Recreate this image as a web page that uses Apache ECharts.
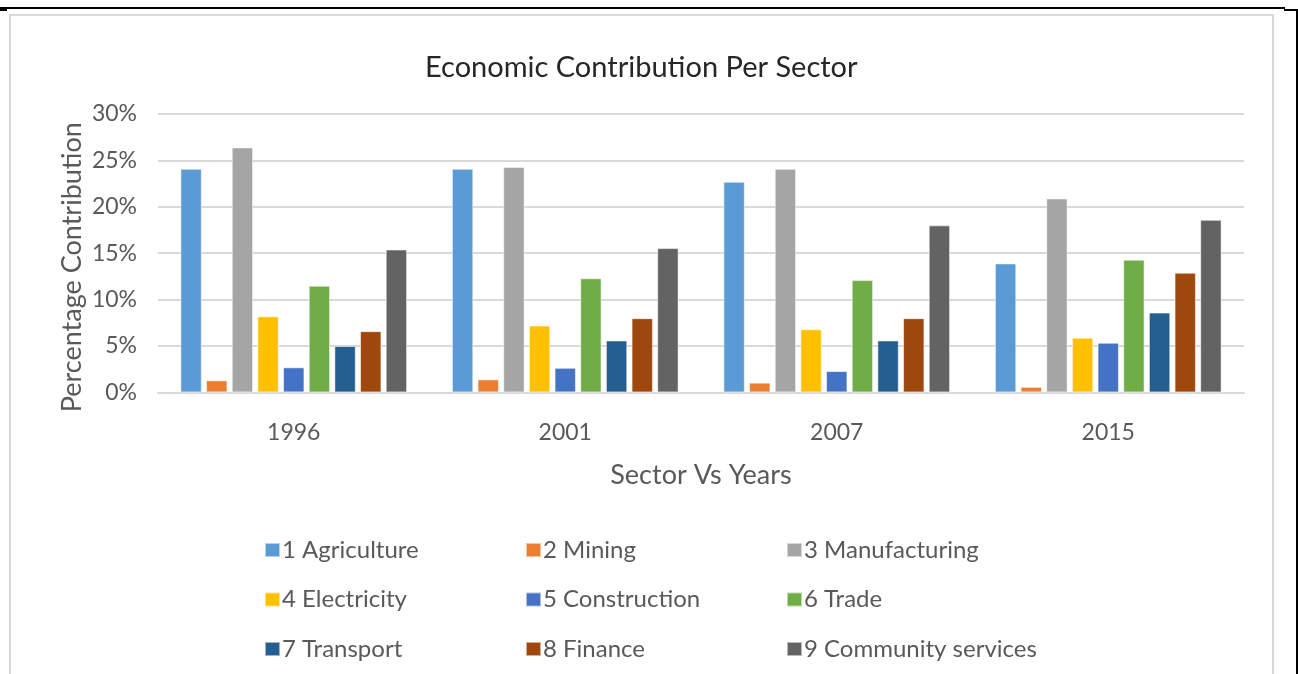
<!DOCTYPE html>
<html>
<head>
<meta charset="utf-8">
<script src="https://cdn.jsdelivr.net/npm/echarts@6/dist/echarts.min.js"></script>
<style>
  html, body { margin: 0; padding: 0; background: #fff; }
  #chart { width: 1298px; height: 674px; }
</style>
</head>
<body>
<div id="chart"></div>
<script>
// Census years on the category axis
const years = ['1996', '2001', '2007', '2015'];

// Share of the economy per sector (percent), one value per year
const agriculture   = [24.1, 24.1, 22.7, 13.9];
const mining        = [1.3, 1.4, 1.05, 0.6];
const manufacturing = [26.4, 24.3, 24.1, 20.9];
const electricity   = [8.2, 7.2, 6.8, 5.9];
const construction  = [2.7, 2.65, 2.3, 5.35];
const trade         = [11.5, 12.3, 12.1, 14.3];
const transport     = [5.0, 5.6, 5.6, 8.6];
const finance       = [6.6, 8.0, 8.0, 12.9];
const community     = [15.4, 15.55, 18.0, 18.6];

const sectorNames = [
  '1 Agriculture', '2 Mining', '3 Manufacturing',
  '4 Electricity', '5 Construction', '6 Trade',
  '7 Transport', '8 Finance', '9 Community services'
];
const sectorValues = [
  agriculture, mining, manufacturing,
  electricity, construction, trade,
  transport, finance, community
];
const sectorColors = [
  '#5B9BD5', '#ED7D31', '#A5A5A5',
  '#FFC000', '#4472C4', '#70AD47',
  '#255E91', '#9E480E', '#636363'
];

const FONT = 'Lato, "Open Sans", sans-serif';
const TEXT = '#595959';

const series = sectorNames.map((name, i) => ({
  name: name,
  type: 'bar',
  data: sectorValues[i],
  barGap: '20%',
  barCategoryGap: '16.5%',
  itemStyle: { color: sectorColors[i], borderColor: 'rgba(255,255,255,0.55)', borderWidth: 1 },
  emphasis: { disabled: true }
}));

// three legend columns, each listing every third sector
const legendCols = [0, 1, 2].map(c => ({
  orient: 'vertical',
  left: 259 + c * 261,
  top: 533,
  itemWidth: 15,
  itemHeight: 14,
  itemGap: 25.5,
  icon: 'rect',
  selectedMode: false,
  data: sectorNames.filter((_, i) => i % 3 === c),
  textStyle: { fontFamily: FONT, fontSize: 24, color: TEXT, lineHeight: 24, padding: [0, 0, 0, -3] }
}));

const chart = echarts.init(document.getElementById('chart'), null, { renderer: 'canvas' });
chart.setOption({
  animation: false,
  backgroundColor: '#fff',
  title: {
    text: 'Economic Contribution Per Sector',
    left: 420,
    top: 48,
    textStyle: { fontFamily: FONT, fontSize: 29, fontWeight: 'normal', color: '#262626' }
  },
  legend: legendCols,
  grid: { left: 158, right: 54, top: 114, height: 278.4 },
  xAxis: {
    type: 'category',
    data: years,
    name: 'Sector Vs Years',
    nameLocation: 'middle',
    nameGap: 69,
    nameMoveOverlap: false,
    nameTextStyle: { fontFamily: FONT, fontSize: 27, color: TEXT },
    axisLine: { lineStyle: { color: '#d9d9d9', width: 2 } },
    axisTick: { show: false },
    axisLabel: { fontFamily: FONT, fontSize: 23, color: TEXT, margin: 29 }
  },
  yAxis: {
    type: 'value',
    min: 0,
    max: 30,
    interval: 5,
    name: 'Percentage Contribution',
    nameLocation: 'middle',
    nameGap: 72,
    nameMoveOverlap: false,
    nameTextStyle: { fontFamily: FONT, fontSize: 27, color: TEXT, padding: [0, 28, 0, 0] },
    axisLine: { show: false },
    axisTick: { show: false },
    splitLine: { lineStyle: { color: '#d9d9d9', width: 2 } },
    axisLabel: { fontFamily: FONT, fontSize: 23, color: TEXT, margin: 21, formatter: '{value}%' }
  },
  series: series,
  graphic: [
    { type: 'rect', shape: { x: 10, y: 15, width: 1263, height: 700 }, style: { fill: 'none', stroke: '#d9d9d9', lineWidth: 2 }, silent: true },
    { type: 'line', shape: { x1: 0, y1: 8, x2: 1285, y2: 8 }, style: { stroke: '#000', lineWidth: 2 }, silent: true },
    { type: 'line', shape: { x1: 1284, y1: 10, x2: 1298, y2: 10 }, style: { stroke: '#000', lineWidth: 2 }, silent: true },
    { type: 'line', shape: { x1: 1297, y1: 10, x2: 1297, y2: 674 }, style: { stroke: '#000', lineWidth: 2 }, silent: true },
    { type: 'line', shape: { x1: 0, y1: 10, x2: 7, y2: 10 }, style: { stroke: '#000', lineWidth: 2 }, silent: true }
  ]
});
</script>
</body>
</html>
